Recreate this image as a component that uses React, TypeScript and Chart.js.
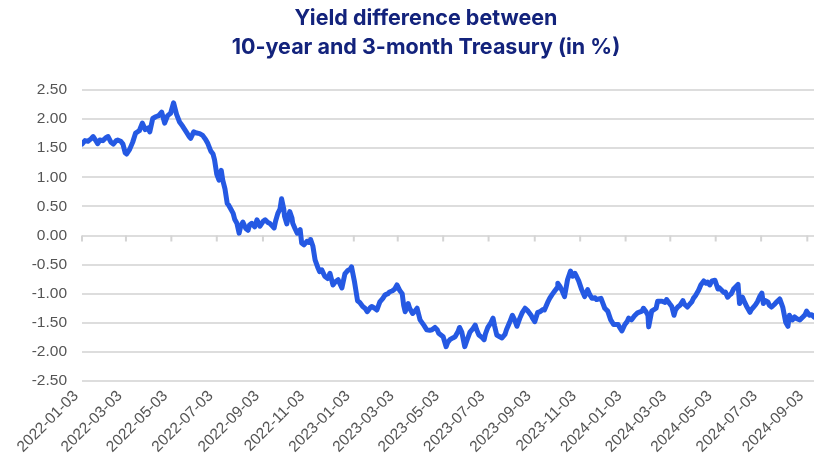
import { useEffect, useRef } from "react";
import { Chart, registerables } from "chart.js";

Chart.register(...registerables);

const TITLE_LINES = ["Yield difference between", "10-year and 3-month Treasury (in %)"];

const TICK_DATES = [
  "2022-01-03", "2022-03-03", "2022-05-03", "2022-07-03", "2022-09-03", "2022-11-03",
  "2023-01-03", "2023-03-03", "2023-05-03", "2023-07-03", "2023-09-03", "2023-11-03",
  "2024-01-03", "2024-03-03", "2024-05-03", "2024-07-03", "2024-09-03",
];

const Y_MIN = -2.5;
const Y_MAX = 2.5;
const Y_STEP = 0.5;

const DATES = [
  "2022-01-03", "2022-01-07", "2022-01-11", "2022-01-15", "2022-01-18", "2022-01-22", "2022-01-24", "2022-01-27", "2022-01-31",
  "2022-02-04", "2022-02-07", "2022-02-11", "2022-02-14", "2022-02-18", "2022-02-20", "2022-02-24", "2022-02-27",
  "2022-03-02", "2022-03-04", "2022-03-08", "2022-03-12", "2022-03-16", "2022-03-21", "2022-03-25", "2022-03-29",
  "2022-04-02", "2022-04-04", "2022-04-08", "2022-04-12", "2022-04-16", "2022-04-20", "2022-04-24", "2022-04-28",
  "2022-05-02", "2022-05-06", "2022-05-10", "2022-05-14", "2022-05-18", "2022-05-23", "2022-05-27", "2022-05-29",
  "2022-06-02", "2022-06-06", "2022-06-10", "2022-06-14", "2022-06-18", "2022-06-21", "2022-06-25", "2022-06-28", "2022-06-30",
  "2022-07-03", "2022-07-06", "2022-07-09", "2022-07-11", "2022-07-14", "2022-07-17", "2022-07-19", "2022-07-22", "2022-07-25", "2022-07-27", "2022-07-30",
  "2022-08-02", "2022-08-04", "2022-08-07", "2022-08-11", "2022-08-14", "2022-08-16", "2022-08-19", "2022-08-23", "2022-08-26", "2022-08-30",
  "2022-09-03", "2022-09-06", "2022-09-10", "2022-09-12", "2022-09-15", "2022-09-18", "2022-09-20", "2022-09-23", "2022-09-26", "2022-09-28",
  "2022-10-01", "2022-10-02", "2022-10-05", "2022-10-09", "2022-10-12", "2022-10-13", "2022-10-16", "2022-10-19", "2022-10-23", "2022-10-25", "2022-10-28",
  "2022-11-01", "2022-11-04", "2022-11-06", "2022-11-09", "2022-11-12", "2022-11-16", "2022-11-18", "2022-11-21", "2022-11-25", "2022-11-29",
  "2022-12-02", "2022-12-06", "2022-12-09", "2022-12-13", "2022-12-15", "2022-12-18", "2022-12-22", "2022-12-26", "2022-12-29", "2022-12-31",
  "2023-01-04", "2023-01-08", "2023-01-11", "2023-01-15", "2023-01-18", "2023-01-21", "2023-01-25", "2023-01-27", "2023-01-31",
  "2023-02-03", "2023-02-07", "2023-02-11", "2023-02-14", "2023-02-18", "2023-02-20", "2023-02-24", "2023-02-27",
  "2023-03-02", "2023-03-06", "2023-03-09", "2023-03-11", "2023-03-13", "2023-03-17", "2023-03-19", "2023-03-23", "2023-03-26", "2023-03-29",
  "2023-04-02", "2023-04-07", "2023-04-11", "2023-04-15", "2023-04-18", "2023-04-22", "2023-04-25", "2023-04-27",
  "2023-05-03", "2023-05-07", "2023-05-09", "2023-05-12", "2023-05-16", "2023-05-19", "2023-05-23", "2023-05-25", "2023-05-28",
  "2023-06-01", "2023-06-04", "2023-06-08", "2023-06-12", "2023-06-15", "2023-06-17", "2023-06-20", "2023-06-24", "2023-06-27", "2023-06-29",
  "2023-07-02", "2023-07-06", "2023-07-09", "2023-07-11", "2023-07-14", "2023-07-18", "2023-07-21", "2023-07-25", "2023-07-27", "2023-07-31",
  "2023-08-04", "2023-08-07", "2023-08-10", "2023-08-14", "2023-08-17", "2023-08-21", "2023-08-25", "2023-08-29", "2023-08-31",
  "2023-09-03", "2023-09-07", "2023-09-10", "2023-09-14", "2023-09-16", "2023-09-21", "2023-09-23", "2023-09-26", "2023-09-30",
  "2023-10-03", "2023-10-04", "2023-10-07", "2023-10-09", "2023-10-13", "2023-10-17", "2023-10-21", "2023-10-24", "2023-10-27", "2023-10-29",
  "2023-11-01", "2023-11-05", "2023-11-09", "2023-11-13", "2023-11-16", "2023-11-19", "2023-11-23", "2023-11-25",
  "2023-12-01", "2023-12-03", "2023-12-06", "2023-12-10", "2023-12-14", "2023-12-18", "2023-12-24", "2023-12-26", "2023-12-29",
  "2024-01-02", "2024-01-05", "2024-01-07", "2024-01-11", "2024-01-15", "2024-01-19", "2024-01-25", "2024-01-27", "2024-01-30",
  "2024-02-02", "2024-02-03", "2024-02-07", "2024-02-13", "2024-02-15", "2024-02-21", "2024-02-25", "2024-02-27",
  "2024-03-02", "2024-03-05", "2024-03-08", "2024-03-10", "2024-03-13", "2024-03-16", "2024-03-20", "2024-03-22", "2024-03-26", "2024-03-29",
  "2024-04-01", "2024-04-03", "2024-04-06", "2024-04-10", "2024-04-13", "2024-04-17", "2024-04-20", "2024-04-22", "2024-04-25", "2024-04-28",
  "2024-05-02", "2024-05-06", "2024-05-08", "2024-05-11", "2024-05-14", "2024-05-16", "2024-05-19", "2024-05-22", "2024-05-24", "2024-05-27", "2024-05-30",
  "2024-06-02", "2024-06-04", "2024-06-08", "2024-06-11", "2024-06-14", "2024-06-18", "2024-06-20", "2024-06-23", "2024-06-26", "2024-06-28",
  "2024-07-01", "2024-07-04", "2024-07-06", "2024-07-09", "2024-07-12", "2024-07-14", "2024-07-17", "2024-07-21", "2024-07-24", "2024-07-28",
  "2024-08-01", "2024-08-05", "2024-08-08", "2024-08-10", "2024-08-14", "2024-08-17", "2024-08-20", "2024-08-24", "2024-08-28", "2024-08-31",
  "2024-09-02", "2024-09-06", "2024-09-09", "2024-09-12",
];

const SPREAD = [
  1.57, 1.63, 1.62, 1.66, 1.70, 1.62, 1.58, 1.64, 1.63,
  1.68, 1.70, 1.60, 1.57, 1.63, 1.64, 1.62, 1.57,
  1.42, 1.40, 1.48, 1.60, 1.76, 1.80, 1.93, 1.82,
  1.85, 1.78, 2.01, 2.04, 2.06, 2.12, 1.93, 2.06,
  2.10, 2.28, 2.08, 1.95, 1.88, 1.78, 1.70, 1.67,
  1.78, 1.76, 1.75, 1.72, 1.65, 1.58, 1.45, 1.40, 1.30,
  1.05, 0.95, 1.12, 0.95, 0.80, 0.55, 0.52, 0.45, 0.38, 0.28, 0.21,
  0.04, 0.15, 0.23, 0.12, 0.09, 0.18, 0.21, 0.15, 0.27, 0.16,
  0.24, 0.27, 0.22, 0.21, 0.17, 0.13, 0.25, 0.38, 0.46, 0.63,
  0.45, 0.33, 0.20, 0.41, 0.30, 0.21, 0.12, 0.04, 0.10, -0.13, -0.16,
  -0.10, -0.12, -0.07, -0.18, -0.42, -0.56, -0.62, -0.59, -0.70, -0.74,
  -0.65, -0.85, -0.80, -0.76, -0.82, -0.90, -0.66, -0.60, -0.58, -0.54,
  -0.80, -1.12, -1.15, -1.22, -1.25, -1.31, -1.24, -1.22, -1.25,
  -1.28, -1.14, -1.08, -1.02, -1.00, -0.97, -0.95, -0.92,
  -0.85, -0.95, -1.00, -1.20, -1.31, -1.17, -1.25, -1.34, -1.30, -1.25,
  -1.45, -1.54, -1.62, -1.63, -1.62, -1.58, -1.62, -1.68,
  -1.74, -1.91, -1.84, -1.79, -1.76, -1.74, -1.65, -1.58, -1.66,
  -1.91, -1.80, -1.66, -1.60, -1.54, -1.62, -1.71, -1.75, -1.79, -1.68,
  -1.58, -1.50, -1.42, -1.55, -1.71, -1.74, -1.76, -1.70, -1.62, -1.50,
  -1.37, -1.45, -1.56, -1.42, -1.33, -1.25, -1.30, -1.37, -1.42,
  -1.48, -1.32, -1.31, -1.27, -1.28, -1.13, -1.08, -1.02, -0.95,
  -0.90, -0.82, -0.88, -0.93, -1.05, -0.76, -0.61, -0.70, -0.65, -0.70,
  -0.78, -0.93, -1.05, -0.93, -1.02, -1.08, -1.07, -1.10,
  -1.08, -1.15, -1.25, -1.30, -1.45, -1.53, -1.53, -1.58, -1.64,
  -1.53, -1.48, -1.42, -1.45, -1.38, -1.33, -1.30, -1.25, -1.30,
  -1.37, -1.57, -1.30, -1.25, -1.13, -1.13, -1.15, -1.10,
  -1.17, -1.22, -1.37, -1.28, -1.23, -1.20, -1.12, -1.18, -1.23, -1.18,
  -1.14, -1.08, -1.03, -0.94, -0.85, -0.78, -0.82, -0.80, -0.85, -0.78,
  -0.77, -0.92, -0.90, -0.94, -0.98, -0.97, -1.06, -1.02, -1.00, -0.92, -0.88,
  -0.84, -1.17, -1.06, -1.15, -1.23, -1.32, -1.27, -1.23, -1.18, -1.14,
  -1.05, -0.99, -1.17, -1.12, -1.14, -1.20, -1.23, -1.18, -1.14, -1.09,
  -1.23, -1.49, -1.56, -1.37, -1.45, -1.40, -1.43, -1.45, -1.40, -1.36,
  -1.30, -1.37, -1.36, -1.40,
];

const DAY_MS = 86400000;
const toDay = (s: string) => Date.parse(s + "T00:00:00Z") / DAY_MS;
const fromDay = (d: number) => new Date(Math.round(d) * DAY_MS).toISOString().slice(0, 10);

const LINE_COLOR = "#2559e3";
const TITLE_COLOR = "#13237c";
const TICK_COLOR = "#555555";
const GRID_COLOR = "#dddddd";

const zeroTicksPlugin = {
  id: "zeroTicks",
  beforeDatasetsDraw(chart: any) {
    const { ctx } = chart;
    const xs = chart.scales.x;
    const ys = chart.scales.y;
    const y0 = ys.getPixelForValue(0);
    ctx.save();
    ctx.strokeStyle = "#d4d4d4";
    ctx.lineWidth = 2;
    xs.ticks.forEach((t: any) => {
      const px = xs.getPixelForValue(t.value);
      ctx.beginPath();
      ctx.moveTo(px, y0);
      ctx.lineTo(px, y0 + 6);
      ctx.stroke();
    });
    ctx.restore();
  },
};

export default function App() {
  const canvasRef = useRef<HTMLCanvasElement | null>(null);

  useEffect(() => {
    if (!canvasRef.current) return;
    const points = DATES.map((d, i) => ({ x: toDay(d), y: SPREAD[i] }));
    const chart = new Chart(canvasRef.current, {
      type: "line",
      data: {
        datasets: [
          {
            data: points,
            borderColor: LINE_COLOR,
            borderWidth: 5,
            pointRadius: 0,
            tension: 0,
            borderJoinStyle: "round",
            borderCapStyle: "round",
            fill: false,
          },
        ],
      },
      plugins: [zeroTicksPlugin],
      options: {
        animation: false,
        responsive: true,
        maintainAspectRatio: false,
        layout: { padding: { left: 12, right: 0, top: 0, bottom: 0 } },
        plugins: {
          legend: { display: false },
          tooltip: { enabled: false },
          title: {
            display: true,
            text: TITLE_LINES,
            color: TITLE_COLOR,
            font: { family: "Inter", size: 21.5, weight: "bold", lineHeight: "29px" },
            padding: { top: 4, bottom: 28 },
          },
        },
        scales: {
          x: {
            type: "linear",
            min: toDay(DATES[0]),
            max: toDay(DATES[DATES.length - 1]),
            afterBuildTicks: (s: any) => {
              s.ticks = TICK_DATES.map((d) => ({ value: toDay(d) }));
            },
            afterFit: (s: any) => {
              s.height = 91;
              s.paddingRight = 26;
              s.paddingLeft = 0;
            },
            ticks: {
              autoSkip: false,
              minRotation: 45,
              maxRotation: 45,
              padding: 6,
              labelOffset: -6,
              color: TICK_COLOR,
              font: { family: "Liberation Sans", size: 15.5 },
              callback: (v: any) => fromDay(Number(v)),
            },
            grid: { display: false, drawTicks: false },
            border: { display: false },
          },
          y: {
            min: Y_MIN,
            max: Y_MAX,
            afterFit: (s: any) => {
              s.width = 70;
            },
            ticks: {
              stepSize: Y_STEP,
              padding: 15,
              color: TICK_COLOR,
              font: { family: "Liberation Sans", size: 15.5 },
              callback: (v: any) => Number(v).toFixed(2),
            },
            grid: { color: GRID_COLOR, lineWidth: 2, drawTicks: false },
            border: { display: false },
          },
        },
      },
    });
    return () => chart.destroy();
  }, []);

  return (
    <div style={{ position: "absolute", left: 0, top: 0, width: 840, height: 472, background: "#ffffff" }}>
      <canvas ref={canvasRef} />
    </div>
  );
}
